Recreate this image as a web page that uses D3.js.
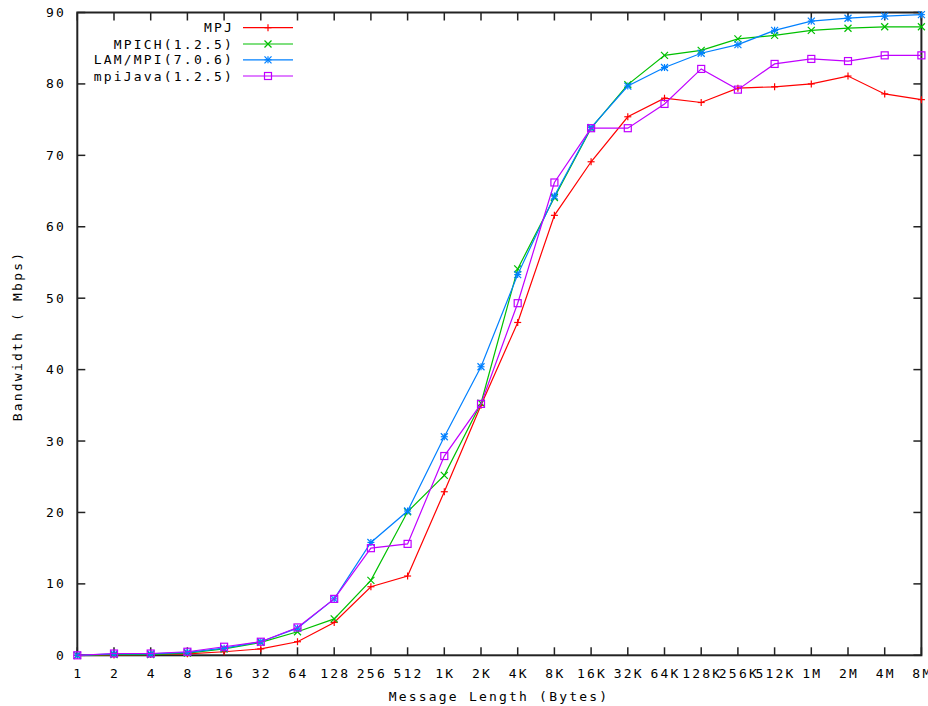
<!DOCTYPE html>
<html>
<head>
<meta charset="utf-8">
<script src="https://cdn.jsdelivr.net/npm/d3@7"></script>
<style>
  body { margin: 0; background: #fff; }
  svg text { font-family: "DejaVu Sans Mono", monospace; font-size: 13px; letter-spacing: 2.2px; fill: #000; }
</style>
</head>
<body>
<svg id="chart" width="928" height="706"></svg>
<script>
const sizes = ["1", "2", "4", "8", "16", "32", "64", "128", "256", "512", "1K", "2K", "4K", "8K",
    "16K", "32K", "64K", "128K", "256K", "512K", "1M", "2M", "4M", "8M"];
const yTicks = [0, 10, 20, 30, 40, 50, 60, 70, 80, 90];

const mpj = [0, 0.05, 0.1, 0.2, 0.5, 0.9, 1.9, 4.6, 9.6, 11.1, 22.9, 35.0, 46.6, 61.6,
    69.1, 75.4, 78.0, 77.4, 79.4, 79.6, 80.0, 81.1, 78.6, 77.8];
const mpich = [0, 0.1, 0.1, 0.3, 0.9, 1.8, 3.3, 5.1, 10.5, 20.1, 25.2, 35.3, 54.1, 64.1,
    73.8, 79.9, 84.0, 84.7, 86.3, 86.8, 87.5, 87.8, 88.0, 88.0];
const lam = [0, 0.2, 0.2, 0.4, 1.0, 1.9, 3.8, 7.9, 15.8, 20.2, 30.6, 40.4, 53.3, 64.3,
    73.9, 79.7, 82.3, 84.3, 85.5, 87.5, 88.8, 89.2, 89.5, 89.7];
const mpiJava = [0, 0.25, 0.25, 0.5, 1.2, 1.9, 3.9, 7.9, 15.0, 15.6, 27.9, 35.2, 49.3, 66.2,
    73.8, 73.8, 77.2, 82.1, 79.2, 82.8, 83.5, 83.2, 84.0, 84.0];

const series = [
    { name: "MPJ", values: mpj, color: "#ff0000", marker: "plus" },
    { name: "MPICH(1.2.5)", values: mpich, color: "#00c000", marker: "cross" },
    { name: "LAM/MPI(7.0.6)", values: lam, color: "#0080ff", marker: "star" },
    { name: "mpiJava(1.2.5)", values: mpiJava, color: "#c000ff", marker: "square" }
];

const svg = d3.select("#chart");
const plotLeft = 77.3, plotRight = 921.4, plotTop = 12.5, plotBottom = 655.3;

const x = d3.scalePoint().domain(sizes).range([plotLeft, plotRight]);
const y = d3.scaleLinear().domain([0, 90]).range([plotBottom, plotTop]);

// ticks on all four sides, pointing inward
const tickLen = 8;
const axisColor = "#222";
const tickG = svg.append("g").attr("stroke", axisColor).attr("stroke-width", 1.5);
sizes.forEach(s => {
    tickG.append("line").attr("x1", x(s)).attr("x2", x(s)).attr("y1", plotBottom).attr("y2", plotBottom - tickLen);
    tickG.append("line").attr("x1", x(s)).attr("x2", x(s)).attr("y1", plotTop).attr("y2", plotTop + tickLen);
});
yTicks.forEach(v => {
    tickG.append("line").attr("x1", plotLeft).attr("x2", plotLeft + tickLen).attr("y1", y(v)).attr("y2", y(v));
    tickG.append("line").attr("x1", plotRight).attr("x2", plotRight - tickLen).attr("y1", y(v)).attr("y2", y(v));
});

svg.append("rect")
    .attr("x", plotLeft).attr("y", plotTop)
    .attr("width", plotRight - plotLeft).attr("height", plotBottom - plotTop)
    .attr("fill", "none").attr("stroke", axisColor).attr("stroke-width", 2);

svg.append("g").selectAll("text")
    .data(sizes)
    .join("text")
    .attr("x", d => x(d) + 1)
    .attr("y", 673)
    .attr("text-anchor", "middle")
    .attr("dominant-baseline", "central")
    .text(d => d);

svg.append("g").selectAll("text")
    .data(yTicks)
    .join("text")
    .attr("x", 66)
    .attr("y", d => y(d))
    .attr("text-anchor", "end")
    .attr("dominant-baseline", "central")
    .text(d => d);

svg.append("text")
    .attr("x", 499)
    .attr("y", 696)
    .attr("text-anchor", "middle")
    .attr("dominant-baseline", "central")
    .text("Message Length (Bytes)");

svg.append("text")
    .attr("transform", "translate(17,336) rotate(-90)")
    .attr("text-anchor", "middle")
    .attr("dominant-baseline", "central")
    .text("Bandwidth ( Mbps)");

function drawMarker(g, type, cx, cy, color) {
    const r = 3.5;
    const m = g.append("g").attr("stroke", color).attr("stroke-width", 1.2).attr("fill", "none");
    if (type === "plus" || type === "star") {
        m.append("line").attr("x1", cx - r).attr("x2", cx + r).attr("y1", cy).attr("y2", cy);
        m.append("line").attr("x1", cx).attr("x2", cx).attr("y1", cy - r).attr("y2", cy + r);
    }
    if (type === "cross" || type === "star") {
        m.append("line").attr("x1", cx - r).attr("x2", cx + r).attr("y1", cy - r).attr("y2", cy + r);
        m.append("line").attr("x1", cx - r).attr("x2", cx + r).attr("y1", cy + r).attr("y2", cy - r);
    }
    if (type === "square") {
        m.append("rect").attr("x", cx - r).attr("y", cy - r).attr("width", 2 * r).attr("height", 2 * r);
    }
}

const line = d3.line()
    .x((d, i) => x(sizes[i]))
    .y(d => y(d));

series.forEach(s => {
    const g = svg.append("g");
    g.append("path")
        .datum(s.values)
        .attr("d", line)
        .attr("fill", "none")
        .attr("stroke", s.color)
        .attr("stroke-width", 1.2);
    s.values.forEach((v, i) => drawMarker(g, s.marker, x(sizes[i]), y(v), s.color));
});

// legend
const legendY = [27.7, 44, 59.8, 76];
series.forEach((s, i) => {
    const g = svg.append("g");
    g.append("text")
        .attr("x", 234)
        .attr("y", legendY[i])
        .attr("text-anchor", "end")
        .attr("dominant-baseline", "central")
        .text(s.name);
    g.append("line")
        .attr("x1", 243).attr("x2", 293)
        .attr("y1", legendY[i]).attr("y2", legendY[i])
        .attr("stroke", s.color).attr("stroke-width", 1.2);
    drawMarker(g, s.marker, 268, legendY[i], s.color);
});
</script>
</body>
</html>
